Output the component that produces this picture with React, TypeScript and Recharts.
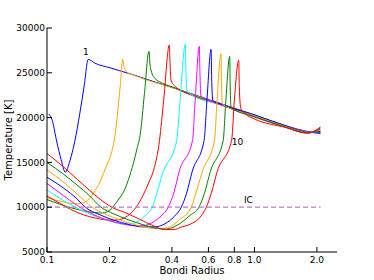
import { LineChart, Line, XAxis, YAxis, ReferenceDot } from "recharts";

// Bondi radius (x) and temperature [K] (y) for each of the ten runs
const radius1 = [0.102, 0.106, 0.111, 0.117, 0.1225, 0.129, 0.136, 0.144, 0.151, 0.158, 0.17, 0.2015, 0.26, 0.332, 0.491, 0.69, 1.0, 1.41, 1.8, 2.08];
const temp1 = [20400, 19700, 17500, 15300, 13900, 15200, 17300, 20500, 23500, 26500, 26080, 25560, 24780, 23970, 22700, 21550, 20300, 19100, 18450, 18200];

const radius2 = [0.1, 0.11, 0.12, 0.13, 0.139, 0.147, 0.153, 0.162, 0.171, 0.18, 0.187, 0.195, 0.2015, 0.209, 0.2135, 0.22, 0.226, 0.2316, 0.234, 0.238, 0.245, 0.261, 0.29, 0.332, 0.379, 0.491, 0.69, 1.0, 1.41, 1.8, 2.08];
const temp2 = [11050, 10800, 10580, 10430, 10380, 10450, 10600, 11100, 11900, 12800, 13750, 14800, 15600, 17000, 18300, 21000, 23800, 26500, 25900, 25350, 25000, 24750, 24350, 23900, 23550, 22650, 21500, 20250, 19050, 18400, 18300];

const radius3 = [0.1, 0.115, 0.13, 0.15, 0.17, 0.185, 0.2, 0.209, 0.22, 0.235, 0.248, 0.261, 0.272, 0.281, 0.295, 0.31, 0.314, 0.318, 0.332, 0.36, 0.423, 0.491, 0.69, 1.0, 1.41, 1.8, 2.08];
const temp3 = [10850, 10350, 9950, 9600, 9400, 9350, 9650, 10100, 10800, 11800, 13200, 14900, 16600, 18000, 22700, 27400, 25800, 25200, 24350, 23850, 23240, 22600, 21450, 20200, 19000, 18350, 18350];

const radius4 = [0.1, 0.115, 0.13, 0.15, 0.17, 0.19, 0.21, 0.23, 0.25, 0.269, 0.29, 0.31, 0.3265, 0.3487, 0.365, 0.389, 0.392, 0.396, 0.41, 0.423, 0.491, 0.69, 1.0, 1.41, 1.8, 2.08];
const temp4 = [11250, 10450, 9750, 9150, 8800, 8600, 8550, 8700, 9200, 10000, 11300, 12800, 14120, 17470, 21900, 28100, 26000, 24200, 23600, 23300, 22550, 21400, 20150, 18950, 18300, 18850];

const radius5 = [0.1, 0.115, 0.137, 0.16, 0.19, 0.215, 0.235, 0.26, 0.28, 0.3, 0.3216, 0.34, 0.36, 0.422, 0.438, 0.464, 0.467, 0.472, 0.491, 0.69, 1.0, 1.41, 1.8, 2.08];
const temp5 = [11930, 11000, 10000, 9250, 8650, 8250, 8100, 8200, 8550, 9150, 10000, 11700, 13700, 17470, 21900, 28180, 25500, 23200, 22600, 21450, 20100, 18950, 18300, 18450];

const radius6 = [0.1, 0.12, 0.144, 0.17, 0.2, 0.23, 0.26, 0.29, 0.32, 0.35, 0.384, 0.41, 0.434, 0.503, 0.518, 0.542, 0.546, 0.552, 0.69, 1.0, 1.41, 1.8, 2.08];
const temp6 = [12650, 11300, 10000, 9100, 8500, 8150, 7950, 7950, 8250, 8900, 10000, 11700, 14000, 17470, 21900, 27960, 25000, 22400, 21450, 20050, 18950, 18300, 18500];

const radius7 = [0.1, 0.12, 0.14, 0.153, 0.18, 0.21, 0.25, 0.29, 0.33, 0.37, 0.41, 0.444, 0.47, 0.5015, 0.572, 0.59, 0.618, 0.622, 0.63, 0.69, 1.0, 1.41, 1.8, 2.08];
const temp7 = [13350, 12150, 10900, 10000, 9150, 8550, 8050, 7800, 7800, 8150, 8950, 10000, 11500, 14000, 17470, 21900, 27620, 24500, 21900, 21500, 20300, 19100, 18400, 18400];

const radius8 = [0.1, 0.12, 0.14, 0.165, 0.19, 0.22, 0.26, 0.3, 0.34, 0.38, 0.41, 0.439, 0.47, 0.496, 0.53, 0.561, 0.642, 0.66, 0.69, 0.694, 0.7, 1.0, 1.41, 1.8, 2.08];
const temp8 = [14150, 12800, 11450, 10000, 9250, 8650, 8100, 7750, 7600, 7700, 8100, 8700, 9200, 10000, 12100, 14000, 17470, 21900, 27140, 24000, 21500, 20200, 19000, 18350, 18600];

const radius9 = [0.1, 0.12, 0.14, 0.16, 0.182, 0.21, 0.25, 0.29, 0.33, 0.37, 0.41, 0.439, 0.49, 0.54, 0.575, 0.613, 0.707, 0.728, 0.76, 0.764, 0.772, 1.0, 1.41, 1.8, 2.08];
const temp9 = [15000, 13700, 12450, 11300, 10000, 9250, 8550, 8050, 7700, 7550, 7800, 8200, 9100, 10000, 11600, 14000, 17470, 21900, 26840, 23500, 21100, 20100, 18950, 18300, 18700];

const radius10 = [0.1, 0.12, 0.14, 0.16, 0.18, 0.205, 0.238, 0.28, 0.32, 0.37, 0.41, 0.44, 0.49, 0.548, 0.586, 0.62, 0.662, 0.776, 0.8, 0.84, 0.845, 0.86, 0.9, 1.0, 1.41, 1.8, 2.08];
const temp10 = [16000, 14500, 13100, 11900, 10900, 10000, 9400, 8650, 8000, 7500, 7500, 7750, 8100, 8900, 10000, 11600, 14000, 17470, 21900, 26400, 23500, 21000, 20450, 19850, 18900, 18250, 18950];

// IC reference level
const icRadius = [0.1, 2.08];
const icTemp = [10000, 10000];

const xTicks = [0.1, 0.2, 0.4, 0.6, 0.8, 1.0, 2.0];
const yTicks = [5000, 10000, 15000, 20000, 25000, 30000];

const labelText = ["1", "10", "IC"];
const labelRadius = [0.154, 0.828, 0.935];
const labelTemp = [27300, 17350, 10770];

const colors = ["#0000ff", "#ffa500", "#008000", "#ff0000", "#00ffff", "#ff00ff", "#0000ff", "#ffa500", "#008000", "#ff0000"];

const toPoints = (xs: number[], ts: number[]) => xs.map((x, i) => ({ x, T: ts[i] }));

const curves = [
  toPoints(radius1, temp1),
  toPoints(radius2, temp2),
  toPoints(radius3, temp3),
  toPoints(radius4, temp4),
  toPoints(radius5, temp5),
  toPoints(radius6, temp6),
  toPoints(radius7, temp7),
  toPoints(radius8, temp8),
  toPoints(radius9, temp9),
  toPoints(radius10, temp10),
];
const icLine = toPoints(icRadius, icTemp);

const tickStyle = { fontSize: 9, fill: "#000" };
const axisStroke = { stroke: "#000" };

export default function App() {
  return (
    <div style={{ position: "absolute", left: 0, top: 0, fontFamily: "'DejaVu Sans', sans-serif" }}>
      <LineChart width={374} height={280} margin={{ top: 28, right: 37, bottom: 0, left: 0 }}>
        <XAxis
          dataKey="x"
          type="number"
          scale="log"
          domain={[0.1, 2.5]}
          allowDataOverflow
          ticks={xTicks}
          tickFormatter={(v: number) => v.toFixed(1)}
          tick={tickStyle}
          tickSize={-5}
          tickMargin={10}
          axisLine={axisStroke}
          tickLine={axisStroke}
          height={28}
          label={{ value: "Bondi Radius", position: "insideBottom", offset: 6, style: { fontSize: 10, fill: "#000" } }}
        />
        <XAxis
          xAxisId="top"
          orientation="top"
          dataKey="x"
          type="number"
          scale="log"
          domain={[0.1, 2.5]}
          allowDataOverflow
          ticks={xTicks}
          tickFormatter={() => ""}
          tickSize={-5}
          axisLine={axisStroke}
          tickLine={axisStroke}
          height={0}
        />
        <YAxis
          type="number"
          domain={[5000, 30000]}
          ticks={yTicks}
          tick={tickStyle}
          tickSize={-5}
          tickMargin={7}
          axisLine={axisStroke}
          tickLine={axisStroke}
          width={47}
          label={{ value: "Temperature [K]", angle: -90, position: "insideLeft", offset: 8, style: { fontSize: 10, fill: "#000", textAnchor: "middle" } }}
        />
        <YAxis
          yAxisId="right"
          orientation="right"
          type="number"
          domain={[5000, 30000]}
          ticks={yTicks}
          tickFormatter={() => ""}
          tickSize={-5}
          axisLine={axisStroke}
          tickLine={axisStroke}
          width={0}
        />
        {curves.map((data, i) => (
          <Line
            key={i}
            data={data}
            dataKey="T"
            type="monotone"
            stroke={colors[i]}
            strokeWidth={1}
            dot={false}
            isAnimationActive={false}
          />
        ))}
        <Line
          data={icLine}
          dataKey="T"
          type="linear"
          stroke="#bb77cc"
          strokeWidth={1.2}
          strokeDasharray="5 3"
          dot={false}
          isAnimationActive={false}
        />
        {labelText.map((t, i) => (
          <ReferenceDot
            key={t}
            x={labelRadius[i]}
            y={labelTemp[i]}
            r={0}
            fill="none"
            stroke="none"
            label={{ value: t, position: "center", fontSize: 9, fill: "#000" }}
          />
        ))}
      </LineChart>
    </div>
  );
}
